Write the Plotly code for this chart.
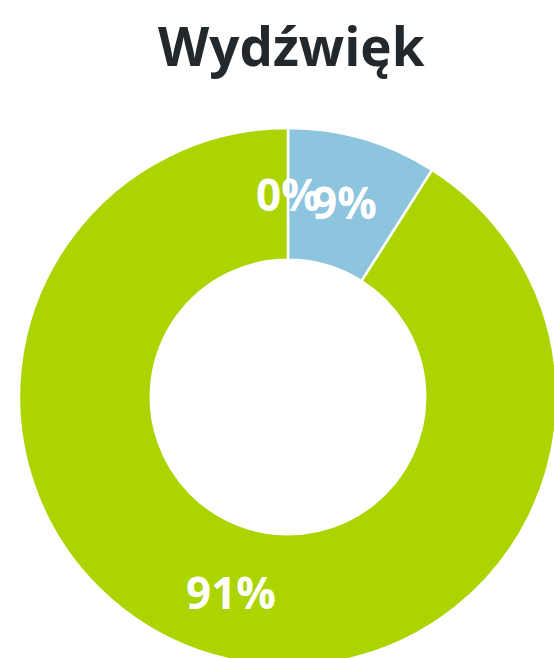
import math
import plotly.graph_objects as go

# Data
categories = ["Negatywny", "Neutralny", "Pozytywny"]
values = [0, 9, 91]
colors = ["#e2001a", "#8dc4de", "#acd400"]
title_text = "Wydźwięk"

HOLE = 0.51

fig = go.Figure(go.Pie(
    labels=categories,
    values=values,
    hole=HOLE,
    sort=False,
    direction="clockwise",
    rotation=0,
    marker=dict(colors=colors, line=dict(color="white", width=2.5)),
    textinfo="none",
    hoverinfo="label+percent",
    showlegend=False,
))

# Labels positioned at slice mid-angles (computed from the data)
total = sum(values)
cum = 0.0
r_lab = (1 + HOLE) / 2 * 0.5
annotations = []
for cat, v in zip(categories, values):
    mid = (cum + v / 2) / total * 2 * math.pi
    cum += v
    pct = round(100 * v / total)
    annotations.append(dict(
        x=0.5 + r_lab * math.sin(mid), y=0.5 + r_lab * math.cos(mid),
        xref="paper", yref="paper", text=f"<b>{pct}%</b>", showarrow=False,
        font=dict(family="Open Sans", size=44, color="white"),
        xanchor="center", yanchor="middle",
    ))

annotations.append(dict(
    x=0.5056, y=1 + (128 - 45) / 538,
    xref="paper", yref="paper", text=f"<b>{title_text}</b>", showarrow=False,
    font=dict(family="Open Sans", size=53, color="#23282c"),
    xanchor="center", yanchor="middle",
))

fig.update_layout(
    width=557, height=666,
    margin=dict(l=19, r=0, t=128, b=0, pad=0),
    paper_bgcolor="white", plot_bgcolor="white",
    annotations=annotations,
)

fig.write_html(
    "out.html",
    config={"displayModeBar": False},
    post_script="document.body.style.margin='0';document.body.style.overflow='hidden';document.documentElement.style.overflow='hidden';",
)
